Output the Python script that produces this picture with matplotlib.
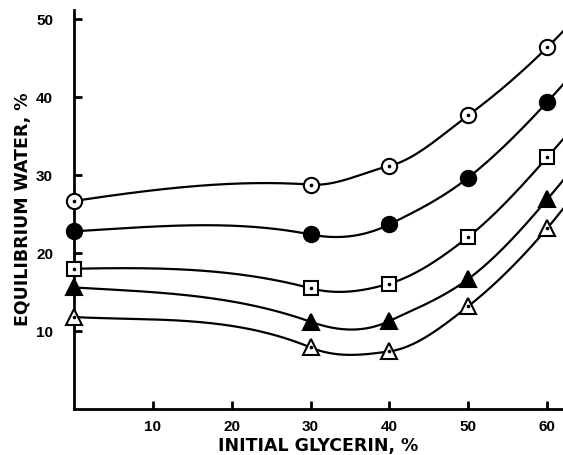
import numpy as np
import matplotlib
matplotlib.use("Agg")
import matplotlib.pyplot as plt

glycerin = [0, 30, 40, 50, 60]
open_circle = [26.7, 28.8, 31.2, 37.7, 46.4]
filled_circle = [22.8, 22.4, 23.7, 29.7, 39.4]
open_square = [18.0, 15.5, 16.1, 22.1, 32.3]
filled_triangle = [15.6, 11.2, 11.3, 16.7, 26.9]
open_triangle = [11.8, 7.9, 7.4, 13.2, 23.2]

# slopes of the hand-drawn curves at each data point
open_circle_slopes = [0.15, -0.07, 0.25, 0.75, 1.0]
filled_circle_slopes = [0.06, -0.2, 0.5, 0.8, 1.1]
open_square_slopes = [0.02, -0.27, 0.3, 0.8, 1.15]
filled_triangle_slopes = [-0.06, -0.36, 0.48, 0.75, 1.2]
open_triangle_slopes = [-0.05, -0.42, 0.14, 0.8, 1.2]

x_ticks = [10, 20, 30, 40, 50, 60]
y_ticks = [10, 20, 30, 40, 50]


def hermite_curve(x, y, m, xs):
    x = np.asarray(x, float); y = np.asarray(y, float); m = np.asarray(m, float)
    n = len(x)
    out = np.empty_like(xs)
    for k, xv in enumerate(xs):
        i = np.searchsorted(x, xv) - 1
        i = min(max(i, 0), n - 2)
        h = x[i + 1] - x[i]
        t = (xv - x[i]) / h
        h00 = 2 * t ** 3 - 3 * t ** 2 + 1
        h10 = t ** 3 - 2 * t ** 2 + t
        h01 = -2 * t ** 3 + 3 * t ** 2
        h11 = t ** 3 - t ** 2
        out[k] = h00 * y[i] + h10 * h * m[i] + h01 * y[i + 1] + h11 * h * m[i + 1]
    return out


fig = plt.figure(figsize=(5.63, 4.55), dpi=100)
ax = fig.add_axes([0.1314, 0.101, 0.8686, 0.877])
ax.set_xlim(0, 62)
ax.set_ylim(0, 51.2)

series = [
    (open_circle, open_circle_slopes, 'o', 'white'),
    (filled_circle, filled_circle_slopes, 'o', 'black'),
    (open_square, open_square_slopes, 's', 'white'),
    (filled_triangle, filled_triangle_slopes, '^', 'black'),
    (open_triangle, open_triangle_slopes, '^', 'white'),
]

xs = np.linspace(0, 62, 500)
for vals, slopes, mk, fc in series:
    ys = hermite_curve(glycerin, vals, slopes, xs)
    ax.plot(xs, ys, color='black', lw=1.6, zorder=2)
    ms = 11 if mk == 'o' else (10 if mk == 's' else 11)
    ax.plot(glycerin, vals, linestyle='none', marker=mk, ms=ms,
            mfc=fc, mec='black', mew=1.5, zorder=5, clip_on=False)
    if fc == 'white':
        ax.plot(glycerin, vals, linestyle='none', marker='o', ms=1.6,
                mfc='black', mec='black', zorder=6, clip_on=False)

for s in ['top', 'right']:
    ax.spines[s].set_visible(False)
for s in ['left', 'bottom']:
    ax.spines[s].set_linewidth(2.0)
    ax.spines[s].set_zorder(3)

ax.set_xticks(x_ticks)
ax.set_yticks(y_ticks)
ax.tick_params(direction='in', length=6, width=2)
ax.tick_params(axis='x', pad=8)
ax.tick_params(axis='y', pad=15)
for lab in ax.get_xticklabels() + ax.get_yticklabels():
    lab.set_fontfamily('Liberation Sans')
    lab.set_fontweight('bold')
    lab.set_fontsize(11)

ax.set_xlabel('INITIAL GLYCERIN, %', fontfamily='DejaVu Sans', fontweight='bold',
              fontsize=12.5, labelpad=2)
ax.set_ylabel('EQUILIBRIUM WATER, %', fontfamily='DejaVu Sans', fontweight='bold',
              fontsize=12.5, labelpad=3)

fig.savefig('out.png', dpi=100)
